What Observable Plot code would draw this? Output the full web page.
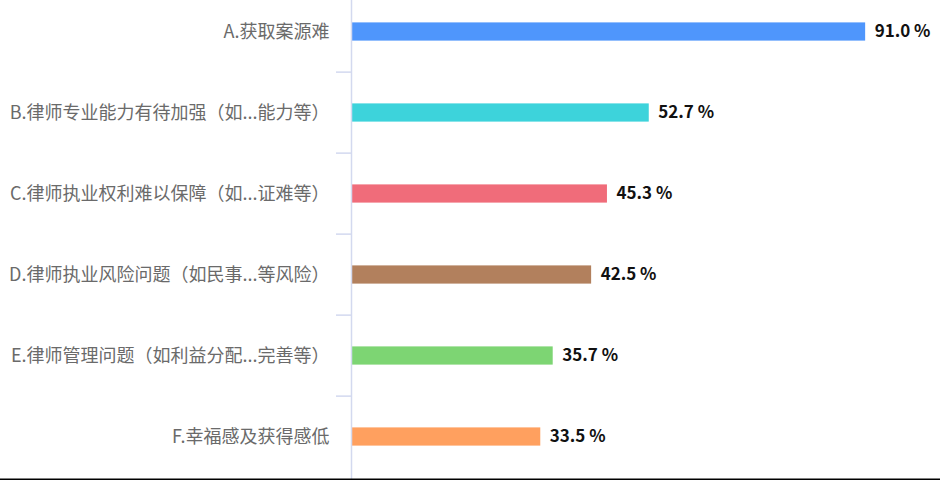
<!DOCTYPE html>
<html><head><meta charset="utf-8">
<script src="https://cdn.jsdelivr.net/npm/d3@7"></script>
<script src="https://cdn.jsdelivr.net/npm/@observablehq/plot@0.6"></script>
<style>
html,body{margin:0;padding:0;background:#fff;}
#chart{width:940px;height:480px;overflow:hidden;}
</style>
</head><body><div id="chart"></div>
<script>
const categories = [
  "A.获取案源难",
  "B.律师专业能力有待加强（如...能力等）",
  "C.律师执业权利难以保障（如...证难等）",
  "D.律师执业风险问题（如民事...等风险）",
  "E.律师管理问题（如利益分配...完善等）",
  "F.幸福感及获得感低"
];
const values = [91.0, 52.7, 45.3, 42.5, 35.7, 33.5];
const colors = ["#4f96fc", "#3dd3db", "#f06c7a", "#b2805d", "#7dd573", "#ffa05f"];

const data = categories.map((c, i) => ({category: c, value: values[i], color: colors[i]}));
const step = (478.75 + 11.75) / categories.length;

const chart = Plot.plot({
  width: 940,
  height: 480,
  marginLeft: 351,
  marginRight: 24,
  marginTop: 0,
  marginBottom: 1,
  style: {fontFamily: "'Noto Sans CJK SC', 'Noto Sans', sans-serif", background: "#fff"},
  x: {domain: [0, 100], axis: null},
  y: {domain: categories, range: [-11.75, 478.75], padding: 0, axis: null},
  marks: [
    Plot.axisY({anchor: "left", label: null, tickSize: 15, tickFormat: () => "", stroke: "#d3d9ef", strokeWidth: 1.5, dy: -step / 2}),
    Plot.barX(data, {y: "category", x: "value", fill: "color", insetTop: 31.4, insetBottom: 31.4}),
    Plot.ruleX([0], {stroke: "#d3d9ef", strokeWidth: 1.5}),
    Plot.text(data, {y: "category", x: 0, text: "category", textAnchor: "end", dx: -22, fontSize: 18, fill: "#6a6a6a"}),
    Plot.text(data, {y: "category", x: "value", text: d => d.value.toFixed(1) + " %", textAnchor: "start", dx: 9, fontSize: 17, fontWeight: "bold", fill: "#111"}),
    Plot.frame({anchor: "bottom", stroke: "#000", strokeWidth: 2, insetLeft: -351, insetRight: -24})
  ]
});
document.getElementById("chart").appendChild(chart);
</script>
</body></html>
